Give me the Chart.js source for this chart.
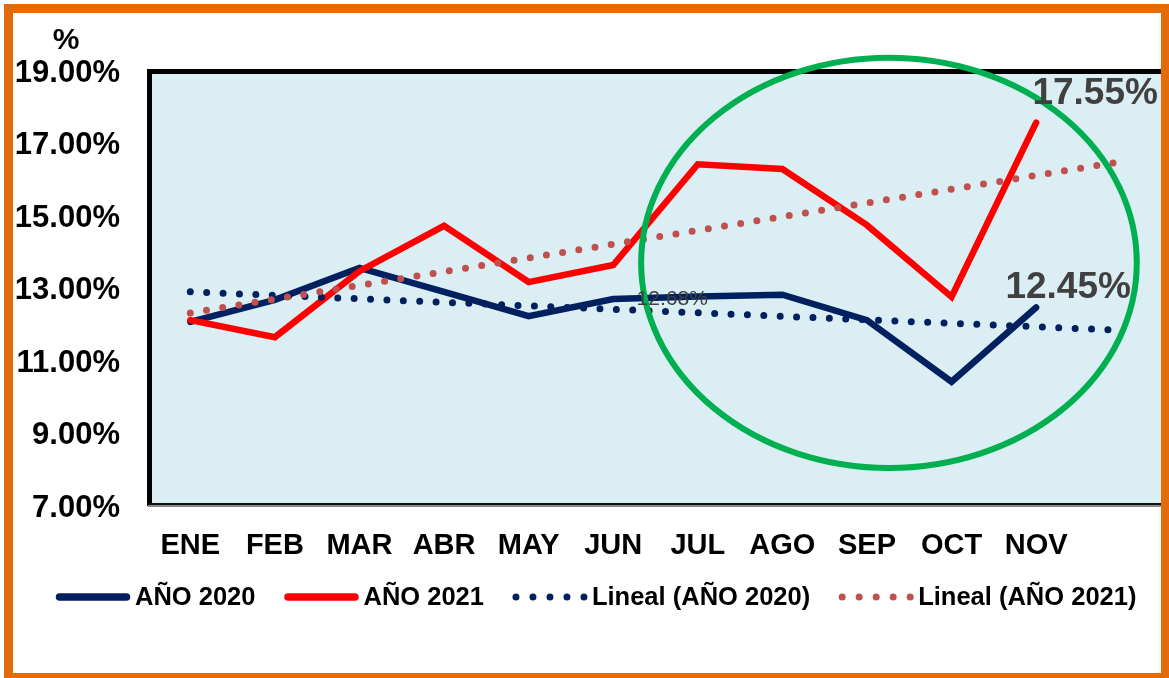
<!DOCTYPE html>
<html><head><meta charset="utf-8">
<script src="https://cdn.jsdelivr.net/npm/chart.js@4.4.0/dist/chart.umd.min.js"></script>
<style>
html,body{margin:0;padding:0;background:#fff;overflow:hidden;}
#wrap{position:relative;width:1169px;height:678px;}
#frame{position:absolute;left:4px;top:4px;width:1166px;height:678px;box-sizing:border-box;border:9px solid #E36C09;pointer-events:none;}
canvas{position:absolute;left:0;top:0;}
</style></head><body>
<div id="wrap"><canvas id="c" width="1169" height="678"></canvas><div id="frame"></div></div>
<script>
// ---- data ----
const months = ['ENE','FEB','MAR','ABR','MAY','JUN','JUL','AGO','SEP','OCT','NOV',''];
const year2020 = [12.05,12.66,13.54,12.88,12.21,12.68,12.75,12.80,12.10,10.40,12.45,null];
const year2021 = [12.10,11.63,13.45,14.70,13.15,13.62,16.40,16.27,14.72,12.74,17.55,null];
const trend2020 = [12.88,null,null,null,null,null,null,null,null,null,null,11.82];
const trend2021 = [12.30,null,null,null,null,null,null,null,null,null,null,16.47];
const yTickValues = [7,9,11,13,15,17,19];
const seriesNames = ['AÑO 2020','AÑO 2021','Lineal (AÑO 2020)','Lineal (AÑO 2021)'];
const axisUnit = '%';

// ---- styles ----
const FONT = "'Liberation Sans', Arial, sans-serif";
const NAVY = '#002060', RED = '#FF0000', TREND_RED = '#C0504D', LABEL_GRAY = '#404040';
const DOTS = [0, 16.4];

// labels shown on points: [datasetIndex, pointIndex, dx, dy, size, bold]
const pointLabels = [
  [1, 10, 59, -29, 37, true],
  [0, 10, 32, -20, 37, true],
  [0, 5, 59, 0, 21, false]
];
// highlight ellipse in axis units
const highlight = {x: 8.26, y: 13.68, rx: 2.93, ry: 5.66};

const fmt = v => v.toFixed(2) + '%';

const plotDeco = {
  id: 'plotDeco',
  beforeDatasetsDraw(chart) {
    const {ctx, chartArea: a} = chart;
    ctx.save();
    ctx.fillStyle = '#DAEEF3';
    ctx.fillRect(a.left, a.top, a.right - a.left, a.bottom - a.top);
    ctx.fillStyle = '#000';
    ctx.fillRect(a.left - 1, a.top - 1, 5, a.bottom - a.top + 2);
    ctx.fillRect(a.left - 1, a.top - 1, a.right - a.left + 1, 5);
    ctx.fillStyle = '#111';
    ctx.fillRect(a.left, a.bottom - 2, a.right - a.left, 2);
    ctx.fillStyle = '#8a8a8a';
    ctx.fillRect(a.left, a.bottom, a.right - a.left, 2);
    ctx.restore();
  },
  afterDatasetsDraw(chart) {
    const {ctx} = chart;
    const xs = chart.scales.x, ys = chart.scales.y;
    ctx.save();
    // ellipse
    const cx = xs.getPixelForValue(highlight.x);
    const cy = ys.getPixelForValue(highlight.y);
    const rx = xs.getPixelForValue(highlight.x + highlight.rx) - cx;
    const ry = cy - ys.getPixelForValue(highlight.y + highlight.ry);
    ctx.beginPath();
    ctx.ellipse(cx, cy, rx, ry, 0, 0, Math.PI * 2);
    ctx.lineWidth = 6;
    ctx.strokeStyle = '#00B050';
    ctx.stroke();
    // point labels
    ctx.fillStyle = LABEL_GRAY;
    ctx.textAlign = 'center';
    ctx.textBaseline = 'middle';
    pointLabels.forEach(([d, i, dx, dy, size, bold]) => {
      const el = chart.getDatasetMeta(d).data[i];
      const v = chart.data.datasets[d].data[i];
      ctx.font = (bold ? 'bold ' : '') + size + 'px ' + FONT;
      ctx.fillText(fmt(v), el.x + dx, el.y + dy);
    });
    ctx.restore();
  },
  afterDraw(chart) {
    const {ctx} = chart;
    const ys = chart.scales.y;
    ctx.save();
    // unit label
    ctx.fillStyle = '#000';
    ctx.font = 'bold 30px ' + FONT;
    ctx.textAlign = 'center';
    ctx.textBaseline = 'middle';
    ctx.fillText(axisUnit, 66, ys.top - 29);
    // legend
    ctx.font = 'bold 25.5px ' + FONT;
    ctx.textAlign = 'left';
    let x = 56;
    const y = 597;
    chart.data.datasets.forEach(ds => {
      ctx.strokeStyle = ds.borderColor;
      ctx.lineCap = 'round';
      ctx.beginPath();
      if (ds.borderDash && ds.borderDash.length) {
        ctx.setLineDash([0, 17]);
        ctx.lineWidth = 7;
        ctx.moveTo(x + 3, y); ctx.lineTo(x + 71.5, y);
      } else {
        ctx.setLineDash([]);
        ctx.lineWidth = 7.5;
        ctx.moveTo(x + 3.5, y); ctx.lineTo(x + 70.5, y);
      }
      ctx.stroke();
      ctx.setLineDash([]);
      ctx.fillStyle = '#000';
      ctx.fillText(ds.label, x + 79, y + 1);
      x += 79 + ctx.measureText(ds.label).width + 29;
    });
    ctx.restore();
  }
};

new Chart(document.getElementById('c'), {
  type: 'line',
  data: {
    labels: months,
    datasets: [
      {label: seriesNames[0], data: year2020, borderColor: NAVY, borderWidth: 6.5, order: 4,
       pointRadius: 0, borderJoinStyle: 'miter', borderCapStyle: 'round', tension: 0},
      {label: seriesNames[1], data: year2021, borderColor: RED, borderWidth: 6.5, order: 3,
       pointRadius: 0, borderJoinStyle: 'miter', borderCapStyle: 'round', tension: 0},
      {label: seriesNames[2], data: trend2020, borderColor: NAVY, borderWidth: 7, order: 2,
       pointRadius: 0, spanGaps: true, borderDash: DOTS, borderCapStyle: 'round'},
      {label: seriesNames[3], data: trend2021, borderColor: TREND_RED, borderWidth: 7, order: 1,
       pointRadius: 0, spanGaps: true, borderDash: DOTS, borderCapStyle: 'round'}
    ]
  },
  options: {
    responsive: false,
    animation: false,
    devicePixelRatio: 1,
    layout: {padding: {top: 70, right: 6, left: 0, bottom: 0}},
    plugins: {legend: {display: false}, tooltip: {enabled: false}},
    scales: {
      x: {
        type: 'category',
        offset: true,
        grid: {display: false, drawTicks: false},
        border: {display: false},
        ticks: {font: {family: FONT, size: 29, weight: 'bold'}, color: '#000', padding: 24,
                maxRotation: 0, autoSkip: false},
        afterFit: s => { s.height = 173; }
      },
      y: {
        min: yTickValues[0], max: yTickValues[yTickValues.length - 1],
        afterBuildTicks: s => { s.ticks = yTickValues.map(v => ({value: v})); },
        grid: {display: false, drawTicks: false},
        border: {display: false},
        ticks: {font: {family: FONT, size: 31, weight: 'bold'}, color: '#000', padding: 28,
                labelOffset: 3, callback: v => fmt(v)},
        afterFit: s => { s.width = 148; }
      }
    }
  },
  plugins: [plotDeco]
});
</script>
</body></html>
